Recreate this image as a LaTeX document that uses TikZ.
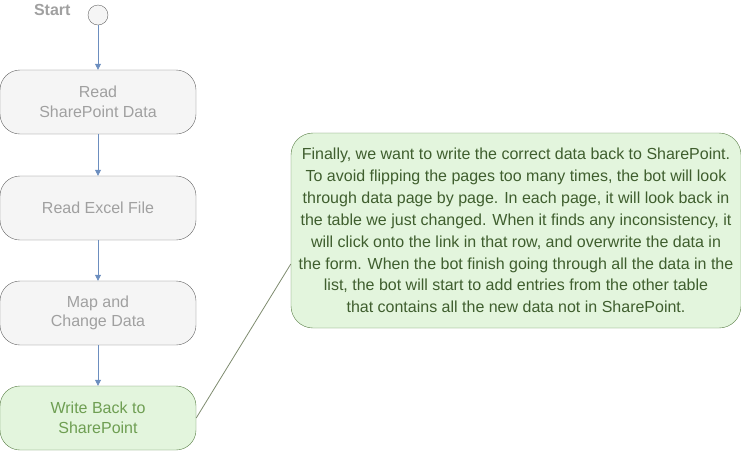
\documentclass[tikz,border=0pt]{standalone}
\usepackage{fontspec}
\setmainfont{Liberation Sans}
\usetikzlibrary{arrows.meta}
\definecolor{boxfill}{HTML}{F5F5F5}
\definecolor{boxline}{HTML}{666666}
\definecolor{boxtext}{HTML}{A0A0A0}
\definecolor{donefill}{HTML}{E3F5DD}
\definecolor{doneline}{HTML}{5A7F47}
\definecolor{donetext}{HTML}{6E9E52}
\definecolor{notetext}{HTML}{3F5E2E}
\definecolor{flowline}{HTML}{6C8EBF}
\definecolor{noteline}{HTML}{7E8B6E}

\tikzset{
  stepbox/.style={draw=boxline,fill=boxfill,text=boxtext,rounded corners=20pt,
    minimum width=196pt,minimum height=64pt,align=center,font=\fontsize{16}{19.5}\selectfont},
  donebox/.style={stepbox,draw=doneline,fill=donefill,text=donetext},
  flow/.style={draw=flowline,line width=0.8pt,-{Triangle[length=6pt,width=6pt]}}
}

\begin{document}
\begin{tikzpicture}[x=1pt,y=-1pt]
\useasboundingbox (0,0) rectangle (741,451);
\node[circle,draw=boxline,fill=boxfill,minimum size=20pt,inner sep=0pt] (start) at (98,15) {};
\node[anchor=east,text=boxtext,font=\bfseries\fontsize{16}{19}\selectfont] (startlbl) at (74,10) {Start};
\node[stepbox] (read) at (98,102) {Read\\SharePoint Data};
\node[stepbox] (excel) at (98,208) {Read Excel File};
\node[stepbox] (map) at (98,313) {Map and\\Change Data};
\node[donebox] (write) at (98,418) {Write Back to\\SharePoint};
\node[draw=doneline,fill=donefill,text=notetext,rounded corners=22pt,
  minimum width=450pt,minimum height=195pt,align=center,
  font=\fontsize{16}{21.9}\selectfont] (note) at (516,230.5)
  {Finally, we want to write the correct data back to SharePoint.\\
   To avoid flipping the pages too many times, the bot will look\\
   through data page by page. In each page, it will look back in\\
   the table we just changed. When it finds any inconsistency, it\\
   will click onto the link in that row, and overwrite the data in\\
   the form. When the bot finish going through all the data in the\\
   list, the bot will start to add entries from the other table\\
   that contains all the new data not in SharePoint.};
\foreach \a/\b in {start/read,read/excel,excel/map,map/write}
    \draw[flow] (\a) -- (\b);
\draw[noteline,line width=0.8pt] (write.east) -- (note.west |- 0,264);
\end{tikzpicture}
\end{document}
